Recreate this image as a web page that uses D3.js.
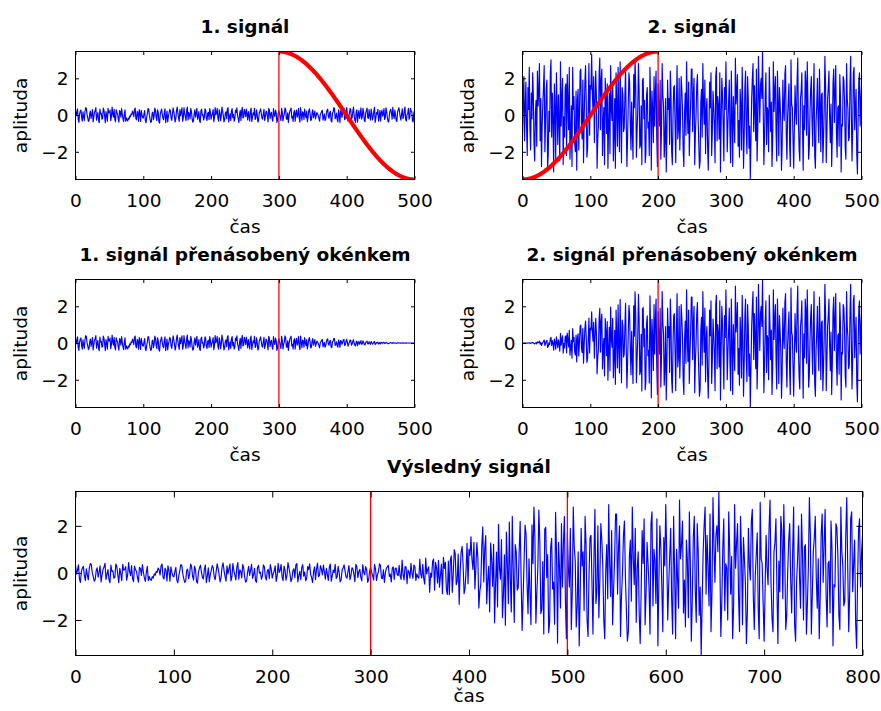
<!DOCTYPE html>
<html>
<head>
<meta charset="utf-8">
<script src="https://cdn.jsdelivr.net/npm/d3@7"></script>
<style>
  body { margin: 0; background: #fff; }
  text { font-family: "DejaVu Sans", sans-serif; }
</style>
</head>
<body>
<div id="chart-area"></div>
<script>

// one sample per time unit (0 ... 500)
var step = 1;

// 1. signal - small noise
var signal1 = [
  0.31,-0.05,0.12,0.34,-0.25,-0.40,0.05,0.21,0.28,-0.12,-0.33,0.17,-0.08,-0.30,0.19,0.40,0.36,0.02,-0.14,-0.35,-0.29,0.08,0.22,-0.18,0.02,0.30,-0.38,-0.10,0.15,0.25,0.41,-0.28,-0.06,0.14,-0.27,-0.42,0.33,0.06,0.09,-0.22,-0.18,0.38,0.26,-0.07,-0.41,0.19,-0.02,-0.33,0.37,0.11,
  0.14,0.27,-0.31,-0.08,0.44,0.05,-0.12,0.31,-0.24,-0.37,0.29,0.13,0.07,-0.20,-0.39,0.24,0.18,-0.11,0.35,0.04,-0.21,-0.36,0.03,0.28,-0.33,-0.15,-0.28,-0.32,-0.16,-0.22,-0.04,-0.10,0.06,0.02,0.21,0.12,-0.09,0.30,0.38,-0.19,-0.26,0.20,0.11,-0.34,0.30,0.09,-0.35,0.26,0.01,-0.13,
  -0.17,0.06,0.24,-0.30,-0.42,-0.12,0.08,0.35,0.33,-0.02,-0.23,-0.40,-0.36,0.11,0.16,-0.25,-0.05,0.38,0.27,-0.14,-0.31,0.29,0.13,-0.36,-0.44,0.03,0.20,0.33,0.04,-0.19,-0.26,0.15,0.34,-0.41,-0.13,0.22,-0.37,-0.06,0.10,0.31,0.22,-0.17,-0.29,0.07,0.39,0.18,-0.07,-0.38,-0.20,0.26,
  0.43,0.10,-0.15,-0.35,0.30,-0.04,0.17,0.39,-0.34,-0.16,0.40,0.08,-0.09,-0.30,0.25,0.44,-0.27,0.13,0.06,-0.21,0.36,0.20,-0.19,-0.39,-0.32,0.05,0.28,-0.11,0.12,0.37,-0.23,-0.07,0.19,-0.33,-0.40,0.23,0.32,-0.01,0.03,-0.27,-0.12,0.34,0.26,-0.18,-0.30,0.09,0.15,-0.24,0.35,0.16,
  -0.22,-0.03,0.08,0.30,-0.36,-0.14,0.41,0.02,0.11,0.36,-0.17,-0.33,0.29,0.12,-0.31,-0.08,0.44,0.21,-0.03,-0.37,-0.25,0.10,0.18,-0.20,0.34,0.40,-0.38,-0.12,0.07,-0.29,0.23,0.35,-0.14,0.04,-0.33,-0.23,0.27,0.14,0.39,-0.06,-0.20,-0.41,0.05,0.26,-0.29,0.17,0.42,-0.16,-0.11,0.31,
  0.16,-0.09,0.33,0.05,-0.27,0.19,-0.06,-0.32,0.24,0.38,-0.35,-0.13,0.12,0.01,0.37,-0.24,-0.16,0.28,0.02,-0.38,-0.30,0.11,0.21,0.34,0.09,-0.17,-0.22,0.07,0.31,-0.29,-0.12,0.22,0.17,-0.05,-0.37,0.36,0.26,-0.20,0.06,0.15,-0.19,-0.34,0.35,0.03,-0.08,0.27,0.13,-0.40,-0.28,0.08,
  0.24,0.03,-0.10,-0.31,0.36,0.15,-0.32,-0.06,0.05,0.39,0.30,-0.21,-0.23,0.12,-0.41,-0.02,0.19,0.29,0.38,-0.16,-0.07,-0.35,0.14,0.25,-0.34,0.09,0.27,-0.12,0.02,0.37,-0.18,-0.39,0.40,0.06,-0.28,0.18,0.11,-0.24,0.33,0.01,-0.15,0.21,-0.36,-0.11,0.22,0.34,0.08,-0.30,-0.25,0.13,
  0.29,-0.14,0.04,0.22,-0.21,-0.05,0.13,0.08,-0.03,-0.18,-0.33,0.02,0.10,0.19,0.26,-0.27,-0.12,0.06,-0.30,-0.22,0.07,0.27,0.32,-0.08,-0.17,0.14,0.20,-0.32,-0.38,0.09,0.16,0.40,0.35,-0.20,-0.09,0.11,-0.26,-0.37,0.28,0.03,-0.41,0.24,0.18,-0.13,0.05,0.33,0.37,-0.25,-0.19,0.15,
  0.41,0.07,-0.34,-0.12,0.09,0.36,0.30,-0.25,-0.14,0.20,0.43,-0.03,-0.29,-0.40,0.17,0.28,-0.39,0.01,0.25,-0.19,0.04,0.39,-0.22,-0.09,0.36,0.13,-0.31,-0.36,0.12,0.24,0.38,-0.15,-0.18,0.30,-0.05,-0.28,0.33,0.10,-0.27,-0.07,0.21,0.42,-0.40,-0.17,0.14,0.05,0.31,-0.33,-0.11,0.26,
  -0.32,0.12,0.27,-0.06,0.06,0.35,-0.24,-0.13,0.39,0.18,-0.15,-0.36,-0.37,0.04,0.23,0.31,0.10,-0.22,0.42,-0.02,-0.20,0.27,0.01,-0.30,-0.35,0.16,0.29,0.40,0.15,-0.11,-0.28,0.07,0.34,-0.19,-0.09,0.25,0.44,-0.26,-0.33,0.03,0.08,0.37,-0.23,-0.14,0.37,0.21,0.19,-0.31,-0.38,0.10,
  0.25
];

// 2. signal - large noise
var signal2 = [
  -1.1,0.6,2.1,-1.4,0.4,1.8,-0.7,-2.2,1.5,0.3,2.6,-0.8,-1.9,1.2,-0.2,2.3,1.1,-1.6,-2.5,0.1,0.8,-1.7,2.4,0.5,1.3,2.8,-1.4,0.9,-2.8,-0.6,0.6,1.6,2.7,-2.0,-0.5,1.4,1.9,-2.9,-2.1,0.2,-0.9,2.2,3.0,-1.2,1.2,-0.3,-3.1,1.7,0.3,-2.4,
  2.3,0.4,-1.6,1.1,-0.4,-2.5,2.9,-0.6,0.9,2.0,-2.7,-0.1,-1.2,1.5,1.7,-2.2,2.2,0.7,-0.8,2.6,-2.4,-1.0,0.5,-2.8,2.6,0.3,1.0,-1.5,-2.0,1.3,-3.0,0.8,1.4,-1.9,0.1,2.4,2.5,-0.7,-1.3,1.9,-2.6,-0.2,1.8,2.7,0.7,-2.3,-1.8,0.5,2.8,-1.1,
  1.6,1.4,3.3,1.2,0.2,2.1,-1.5,0.6,2.4,1.0,-2.9,-1.3,-0.6,2.2,3.1,-0.8,1.9,2.5,-2.2,-0.4,0.4,-2.7,2.0,0.9,-1.0,1.7,-2.9,-0.5,1.2,-2.1,2.7,0.3,-0.3,1.8,-2.5,-1.1,0.9,-2.9,2.3,0.5,-1.7,2.6,-0.2,-2.0,2.9,0.1,-2.6,1.5,1.1,-0.9,
  -0.7,1.0,2.5,-0.3,-2.8,-1.2,0.6,2.3,1.8,-0.5,-1.9,0.7,-0.9,-2.4,2.2,0.4,3.0,1.6,-2.3,-0.9,0.3,2.8,1.4,-1.8,-1.6,0.5,-2.7,1.9,2.0,-0.2,0.8,-2.6,-2.1,1.1,1.5,-0.7,-0.4,-2.2,2.6,0.8,-3.0,1.3,0.2,-1.5,2.1,-0.6,1.3,2.4,-1.2,-2.8,
  1.7,0.2,-0.6,1.9,-2.4,-0.8,2.8,1.1,0.5,-2.3,-1.4,0.9,-3.1,-1.0,1.9,0.3,0.9,-1.6,2.4,1.2,-2.0,-2.7,-0.1,1.5,1.6,-0.4,-2.6,0.6,2.7,-1.3,-0.8,2.0,-1.9,-0.3,2.1,1.4,0.3,-2.0,-2.8,0.1,1.2,-1.1,2.9,0.4,-1.0,1.8,-2.2,-0.7,0.6,2.5,
  2.5,-0.9,1.1,2.0,-2.7,-1.0,0.0,1.6,2.2,-0.2,-1.6,-2.9,-2.5,0.7,1.4,-1.2,2.8,0.6,-0.5,1.9,-2.1,0.2,0.9,-1.7,-3.0,-0.8,1.8,0.4,2.3,-2.2,-0.9,1.3,0.4,-0.6,-2.6,2.1,2.6,-1.4,1.0,0.5,-1.3,2.3,-3.1,-0.4,2.0,1.1,-0.6,-2.5,1.5,0.3,
  2.9,0.8,-2.0,-0.5,0.7,1.9,-1.1,-2.6,2.4,0.1,-2.8,1.0,-0.2,-1.5,3.1,0.6,1.2,2.2,-1.7,-0.3,-2.3,1.4,0.5,-1.9,2.6,0.4,-2.9,-1.1,1.5,2.4,-0.7,-2.1,2.1,0.9,-1.8,-0.6,-3.5,-1.3,0.9,2.0,2.8,-0.9,1.6,0.3,-1.4,2.5,-2.5,-0.8,3.2,1.2,
  -0.4,1.6,2.0,0.9,3.45,0.5,-2.7,-1.2,1.1,2.3,-1.6,0.4,0.2,-2.0,2.6,1.0,-0.9,0.7,-2.8,-1.4,2.9,0.2,1.3,2.1,-1.0,-2.5,2.4,0.8,-2.2,1.5,0.6,-0.5,-3.0,-1.6,1.9,0.3,-0.3,2.2,2.7,-1.0,-2.4,-0.1,0.8,1.7,-1.5,-2.8,3.0,0.6,0.4,-1.3,
  -2.9,-0.7,1.6,0.2,-0.5,1.9,3.1,-0.4,-1.9,-2.5,0.9,1.3,2.3,-0.6,-3.0,0.5,-0.8,2.4,1.8,-1.1,2.9,0.7,-2.4,-1.8,0.1,1.4,2.1,-0.3,-1.7,0.9,2.8,-2.2,-2.9,-0.4,0.6,2.0,-0.2,-1.5,2.5,0.8,-2.0,1.1,1.2,-2.6,-1.3,0.3,3.2,1.6,-2.6,-0.9,
  0.9,1.5,2.4,-0.2,-1.5,0.6,-2.8,-1.0,1.7,2.5,-0.4,1.2,2.7,-0.9,-2.3,0.4,0.5,-1.7,2.2,1.0,-3.1,-0.5,-0.6,2.1,1.9,0.7,-1.8,-2.4,2.8,0.9,0.3,-1.4,-1.2,1.6,3.2,0.2,-2.5,-0.8,2.3,2.6,-0.8,0.4,1.4,-2.1,-3.2,-0.3,1.8,2.3,-0.6,0.8,
  1.6
];

// window taper (falling edge), 200 time units long
var taper = [
  1.000,1.000,1.000,0.999,0.999,0.998,0.998,0.997,0.996,0.995,0.994,0.993,0.991,0.990,0.988,0.986,0.984,0.982,0.980,0.978,
  0.976,0.973,0.970,0.968,0.965,0.962,0.959,0.956,0.952,0.949,0.946,0.942,0.938,0.934,0.930,0.926,0.922,0.918,0.914,0.909,
  0.905,0.900,0.895,0.890,0.885,0.880,0.875,0.870,0.864,0.859,0.854,0.848,0.842,0.837,0.831,0.825,0.819,0.813,0.806,0.800,
  0.794,0.788,0.781,0.775,0.768,0.761,0.755,0.748,0.741,0.734,0.727,0.720,0.713,0.706,0.699,0.691,0.684,0.677,0.669,0.662,
  0.655,0.647,0.639,0.632,0.624,0.617,0.609,0.601,0.594,0.586,0.578,0.570,0.563,0.555,0.547,0.539,0.531,0.524,0.516,0.508,
  0.500,0.492,0.484,0.476,0.469,0.461,0.453,0.445,0.437,0.430,0.422,0.414,0.406,0.399,0.391,0.383,0.376,0.368,0.361,0.353,
  0.345,0.338,0.331,0.323,0.316,0.309,0.301,0.294,0.287,0.280,0.273,0.266,0.259,0.252,0.245,0.239,0.232,0.225,0.219,0.212,
  0.206,0.200,0.194,0.187,0.181,0.175,0.169,0.163,0.158,0.152,0.146,0.141,0.136,0.130,0.125,0.120,0.115,0.110,0.105,0.100,
  0.095,0.091,0.086,0.082,0.078,0.074,0.070,0.066,0.062,0.058,0.054,0.051,0.048,0.044,0.041,0.038,0.035,0.032,0.030,0.027,
  0.024,0.022,0.020,0.018,0.016,0.014,0.012,0.010,0.009,0.007,0.006,0.005,0.004,0.003,0.002,0.002,0.001,0.001,0.000,0.000,
  0.000
];

var fadeStart = 300;   // where signal 1 starts fading / signal 2 is placed
var overlapEnd = 500;
var riseEnd = 200;     // signal 2 window reaches 1 here

var xTicksShort = [0, 100, 200, 300, 400, 500];
var xTicksLong = [0, 100, 200, 300, 400, 500, 600, 700, 800];
var yTicks = [-2, 0, 2];
var yRange = [-3.51, 3.46];

var titles = ["1. signál", "2. signál", "1. signál přenásobený okénkem",
              "2. signál přenásobený okénkem", "Výsledný signál"];
var xLabel = "čas";
var yLabel = "aplituda";

// ---- derived series ----
function w1(t) { return t < fadeStart ? 1 : taper[(t - fadeStart) / step]; }
function w2(t) { return t >= riseEnd ? 1 : taper[(riseEnd - t) / step]; }

var s1 = signal1.map(function(v, i){ return [i * step, v]; });
var s2 = signal2.map(function(v, i){ return [i * step, v]; });
var s1w = s1.map(function(d){ return [d[0], d[1] * w1(d[0])]; });
var s2w = s2.map(function(d){ return [d[0], d[1] * w2(d[0])]; });

var result = [];
for (var t = 0; t <= fadeStart + 500; t += step) {
    var v = 0;
    if (t <= overlapEnd) v += (signal1[t / step] || 0) * w1(t);
    if (t >= fadeStart) v += (signal2[(t - fadeStart) / step] || 0) * w2(t - fadeStart);
    result.push([t, v]);
}

var red1 = taper.map(function(w, i){ return [fadeStart + i * step, yRange[0] + w * (yRange[1] - yRange[0])]; });
var red2 = taper.map(function(w, i){ return [i * step, yRange[0] + taper[taper.length - 1 - i] * (yRange[1] - yRange[0])]; });

// ---- layout ----
var svg = d3.select("#chart-area")
    .append("svg")
    .attr("width", 881)
    .attr("height", 711)
    .style("background", "#fff");

var defs = svg.append("defs");

var panels = [
    { left: 75.5,  top: 51.5,  w: 339, h: 128, xMax: 500, ticks: xTicksShort, tick: 3.5, title: titles[0], series: s1,  red: red1, marks: [fadeStart], xlabDy: 53 },
    { left: 522.5, top: 51.5,  w: 339, h: 128, xMax: 500, ticks: xTicksShort, tick: 3.5, title: titles[1], series: s2,  red: red2, marks: [riseEnd],   xlabDy: 53 },
    { left: 75.5,  top: 279.5, w: 339, h: 128, xMax: 500, ticks: xTicksShort, tick: 3.5, title: titles[2], series: s1w, red: null, marks: [fadeStart], xlabDy: 53 },
    { left: 522.5, top: 279.5, w: 339, h: 128, xMax: 500, ticks: xTicksShort, tick: 3.5, title: titles[3], series: s2w, red: null, marks: [riseEnd],   xlabDy: 53 },
    { left: 75.5,  top: 491.5, w: 787, h: 164, xMax: 800, ticks: xTicksLong,  tick: 6,   title: titles[4], series: result, red: null, marks: [fadeStart, overlapEnd], xlabDy: 46.5 }
];

var fontSize = "18.5px";

panels.forEach(function(p, idx){

    var x = d3.scaleLinear().domain([0, p.xMax]).range([0, p.w]);
    var y = d3.scaleLinear().domain(yRange).range([p.h, 0]);

    defs.append("clipPath").attr("id", "clip" + idx)
        .append("rect").attr("width", p.w).attr("height", p.h);

    var g = svg.append("g")
        .attr("transform", "translate(" + p.left + "," + p.top + ")");

    var plot = g.append("g").attr("clip-path", "url(#clip" + idx + ")");

    var line = d3.line()
        .x(function(d){ return x(d[0]); })
        .y(function(d){ return y(d[1]); });

    plot.append("path")
        .datum(p.series)
        .attr("d", line)
        .attr("fill", "none")
        .attr("stroke", "#0000ff")
        .attr("stroke-width", 1.15)
        .attr("stroke-linejoin", "round");

    plot.selectAll(".mark")
        .data(p.marks)
        .enter().append("line")
        .attr("class", "mark")
        .attr("x1", function(d){ return x(d); })
        .attr("x2", function(d){ return x(d); })
        .attr("y1", 0)
        .attr("y2", p.h)
        .attr("stroke", "#ff0000")
        .attr("stroke-width", 1.3);

    if (p.red) {
        plot.append("path")
            .datum(p.red)
            .attr("d", line)
            .attr("fill", "none")
            .attr("stroke", "#ff0000")
            .attr("stroke-width", 4.2);
    }

    // axes, ticks pointing inward on all four sides
    var xb = g.append("g")
        .attr("transform", "translate(0," + p.h + ")")
        .call(d3.axisBottom(x).tickValues(p.ticks).tickSize(-p.tick).tickSizeOuter(0).tickFormat(d3.format("d")));
    xb.selectAll("text").attr("y", 27.5).attr("dy", null);

    g.append("g")
        .call(d3.axisTop(x).tickValues(p.ticks).tickSize(-p.tick).tickSizeOuter(0).tickFormat(""));

    var yl = g.append("g")
        .call(d3.axisLeft(y).tickValues(yTicks).tickSize(-p.tick).tickSizeOuter(0).tickFormat(d3.format("d")));
    yl.selectAll("text").attr("x", -7).attr("dy", "0.36em");

    g.append("g")
        .attr("transform", "translate(" + p.w + ",0)")
        .call(d3.axisRight(y).tickValues(yTicks).tickSize(-p.tick).tickSizeOuter(0).tickFormat(""));

    g.selectAll(".domain").remove();
    g.selectAll(".tick line").attr("stroke", "#000").attr("stroke-width", 1);
    g.selectAll(".tick text")
        .attr("fill", "#000")
        .style("font-family", "'DejaVu Sans', sans-serif")
        .style("font-size", fontSize);

    // box
    g.append("rect")
        .attr("width", p.w)
        .attr("height", p.h)
        .attr("fill", "none")
        .attr("stroke", "#000")
        .attr("stroke-width", 1);

    // labels
    g.append("text")
        .attr("x", p.w / 2)
        .attr("y", -18.7)
        .attr("text-anchor", "middle")
        .attr("font-weight", "bold")
        .attr("font-size", fontSize)
        .text(p.title);

    g.append("text")
        .attr("x", p.w / 2)
        .attr("y", p.h + p.xlabDy)
        .attr("text-anchor", "middle")
        .attr("font-size", fontSize)
        .text(xLabel);

    g.append("text")
        .attr("transform", "translate(-49," + (p.h / 2) + ") rotate(-90)")
        .attr("text-anchor", "middle")
        .attr("font-size", fontSize)
        .text(yLabel);
});

</script>
</body>
</html>
